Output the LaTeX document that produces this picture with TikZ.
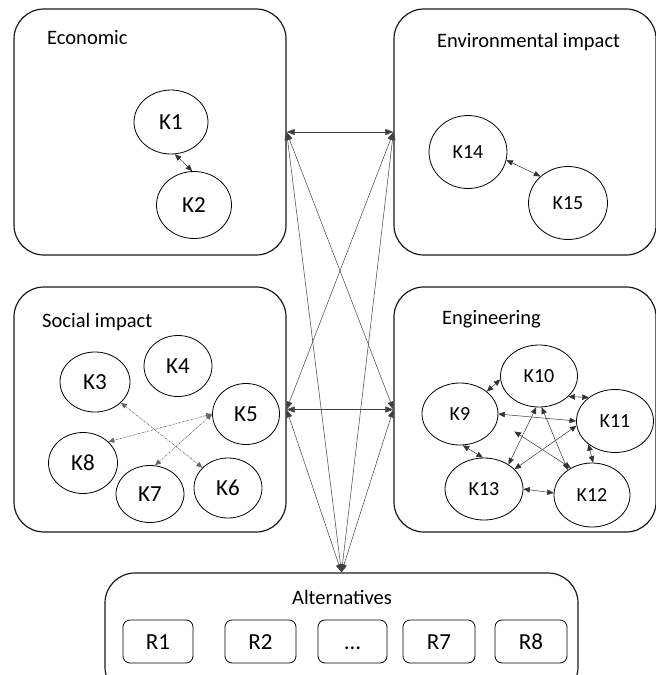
\documentclass[tikz,border=0pt]{standalone}
\usepackage{fontspec}
\setmainfont{Carlito}
\usetikzlibrary{shapes.geometric,arrows.meta}
\tikzset{
  grp/.style={draw=black!90,line width=1.2pt,rounded corners=30pt,inner sep=0pt},
  grplabel/.style={inner sep=0pt,anchor=base west,font=\fontsize{20.5}{24}\selectfont},
  kn/.style={draw,ellipse,line width=0.8pt,inner sep=0pt,font=\fontsize{#1}{22}\selectfont},
  kn/.default=20,
  rbox/.style={draw,line width=0.8pt,rounded corners=7pt,minimum width=70pt,minimum height=43pt,inner sep=0pt,text height=15pt,text depth=0pt,font=\fontsize{23}{26}\selectfont},
  link/.style={draw=black!75,line width=0.5pt,{Triangle[length=8pt,width=6pt]}-{Triangle[length=8pt,width=6pt]}},
  klink/.style={draw=black!80,line width=0.5pt,{Triangle[length=6.5pt,width=5.5pt]}-{Triangle[length=6.5pt,width=5.5pt]}},
  dlink/.style={draw=black!60,line width=0.6pt,dash pattern=on 2pt off 1pt on 0.6pt off 1pt,{Triangle[length=6pt,width=5pt]}-{Triangle[length=6pt,width=5pt]}},
}
\begin{document}
\begin{tikzpicture}[x=1pt,y=-1pt]
\useasboundingbox (0,0) rectangle (656,675);
\clip (0,0) rectangle (656,675);
% group boxes
\node[grp,minimum width=272pt,minimum height=246pt] (eco) at (150,132) {};
\node[grp,minimum width=262pt,minimum height=246pt] (env) at (525,132) {};
\node[grp,minimum width=272pt,minimum height=245pt] (soc) at (150,409.5) {};
\node[grp,minimum width=262pt,minimum height=245pt] (eng) at (525,409.5) {};
\node[grp,minimum width=473pt,minimum height=124pt] (alt) at (341.5,635) {};
% labels
\node[grplabel] (ecolab) at (47,44) {Economic};
\node[grplabel] (envlab) at (437,47) {Environmental impact};
\node[grplabel] (soclab) at (42,327) {Social impact};
\node[grplabel] (englab) at (442,324) {Engineering};
\node[inner sep=0pt,anchor=base,font=\fontsize{20.5}{24}\selectfont] (altlab) at (342,604) {Alternatives};
% economic
\node[kn=23,minimum width=74pt,minimum height=64pt] (K1) at (171,122) {K1};
\node[kn=23,minimum width=75pt,minimum height=67pt] (K2) at (194,205) {K2};
\draw[klink] (K1.-83) -- (K2.93);
% environmental
\node[kn=20,minimum width=78pt,minimum height=73pt] (K14) at (468,152) {K14};
\node[kn=20,minimum width=79pt,minimum height=73pt] (K15) at (568,203) {K15};
\draw[klink] (K14.-12) -- (K15.136);
% social
\node[kn=23,minimum width=70pt,minimum height=60pt] (K3) at (95,382) {K3};
\node[kn=23,minimum width=68pt,minimum height=61pt] (K4) at (178,366) {K4};
\node[kn=23,minimum width=67pt,minimum height=61pt] (K5) at (246,414) {K5};
\node[kn=23,minimum width=69pt,minimum height=61pt] (K8) at (83,463) {K8};
\node[kn=23,minimum width=68pt,minimum height=57pt] (K7) at (150,494) {K7};
\node[kn=23,minimum width=68pt,minimum height=60pt] (K6) at (228,488) {K6};
\draw[dlink] (K3) -- (K6);
\draw[dlink] (K5.west) -- (K8.40);
\draw[dlink] (K5.west) -- (K7.80);
% engineering
\node[kn,minimum width=77pt,minimum height=62pt] (K10) at (539,376) {K10};
\node[kn,minimum width=76pt,minimum height=62pt] (K9) at (460,414) {K9};
\node[kn,minimum width=77pt,minimum height=63pt] (K11) at (615,421) {K11};
\node[kn,minimum width=78pt,minimum height=62pt] (K13) at (484,489) {K13};
\node[kn,minimum width=76pt,minimum height=64pt] (K12) at (592,495) {K12};
\draw[klink] (K9.40) -- (K10.185);
\draw[klink] (K10.-35) -- (K11.138);
\draw[klink] (K11.-139) -- (K12.88);
\draw[klink] (K13.0) -- (K12.177);
\draw[klink] (K9.-85) -- (K13.92);
\draw[klink] (K9.east) -- (K11.west);
\draw[klink] (K10.-95) -- (K13.45);
\draw[klink] (K10.-85) -- (K12.134);
\draw[klink] (K11.-173) -- (K13.33);
\draw[klink,shorten <=20pt] (K9.-10) -- (K12.128);
% alternatives
\node[rbox] (R1) at (158,641.5) {R1};
\node[rbox,minimum width=71pt] (R2) at (260.5,641.5) {R2};
\node[rbox,minimum width=69pt] (Rd) at (352.5,641.5) {...};
\node[rbox,minimum width=72pt] (R7) at (439,641.5) {R7};
\node[rbox,minimum width=72pt] (R8) at (531,641.5) {R8};
% inter-group connectors
\draw[link] (eco.east) -- (env.west);
\draw[link] (eco.east) -- (eng.west);
\draw[link] (eco.east) -- (alt.north);
\draw[link] (env.west) -- (soc.east);
\draw[link] (env.west) -- (alt.north);
\draw[link] (soc.east) -- (eng.west);
\draw[link] (soc.east) -- (alt.north);
\draw[link] (eng.west) -- (alt.north);
\end{tikzpicture}
\end{document}
